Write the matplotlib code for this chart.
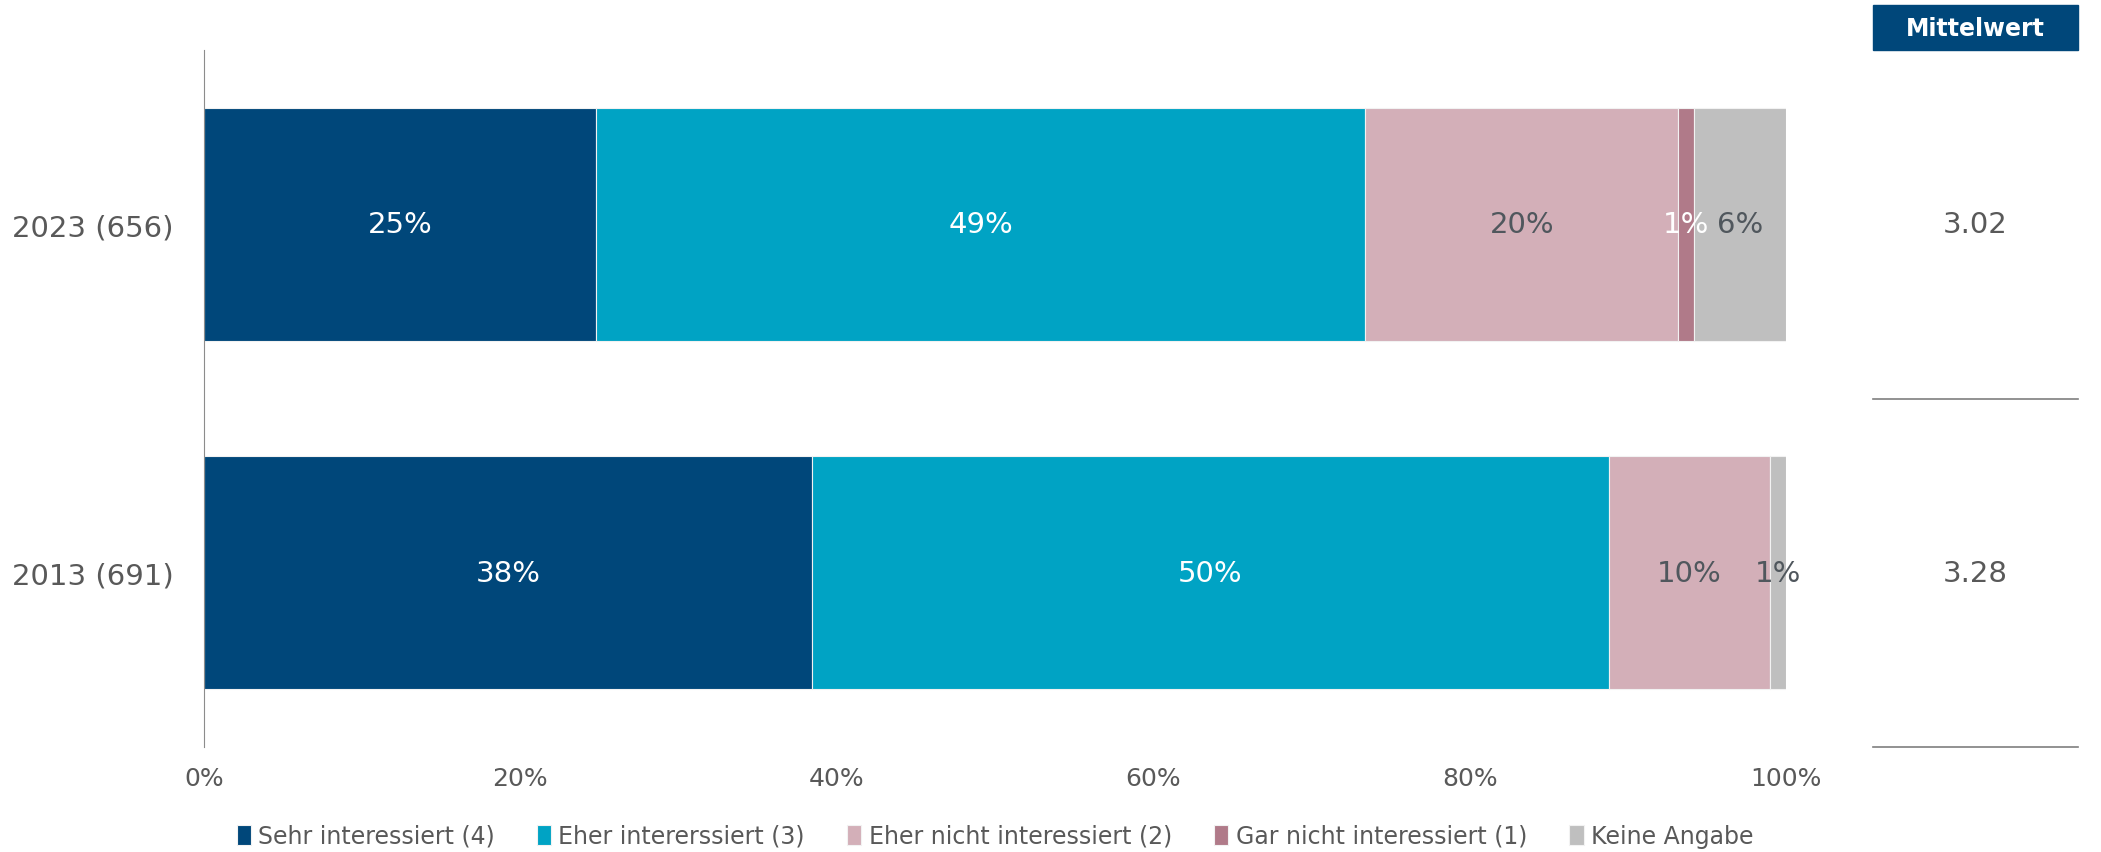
import matplotlib.pyplot as plt
from matplotlib.patches import Rectangle

# --Data
years = ['2013 (691)', '2023 (656)']
sehr = [38.4, 24.8]
eher = [50.4, 48.6]
eher_nicht = [10.2, 19.8]
gar_nicht = [0.0, 1.0]
keine = [1.0, 5.8]
mittelwert = [3.28, 3.02]

series = [sehr, eher, eher_nicht, gar_nicht, keine]
names = ['Sehr interessiert (4)', 'Eher intererssiert (3)', 'Eher nicht interessiert (2)',
         'Gar nicht interessiert (1)', 'Keine Angabe']
colors = ['#00477A', '#00A3C4', '#D3AFB8', '#B07A89', '#BFBFBF']
txtcol = ['white', 'white', '#50575D', 'white', '#50575D']
gray = '#595959'

plt.rcParams['font.family'] = ['DejaVu Sans']

fig = plt.figure(figsize=(21.01, 8.53), dpi=100)
ax = fig.add_axes([0.0971, 0.1231, 0.7530, 0.8171])

ypos = [0, 1]
left = [0.0, 0.0]
for vals, name, c, tc in zip(series, names, colors, txtcol):
    ax.barh(ypos, vals, left=left, height=0.67, color=c, label=name,
            edgecolor='#F2F2F2', linewidth=0.8)
    for y, v, l in zip(ypos, vals, left):
        if v > 0:
            ax.text(l + v / 2, y, f'{round(v):.0f}%', ha='center', va='center',
                    fontsize=21, color=tc)
    left = [a + b for a, b in zip(left, vals)]

ax.set_xlim(0, 100)
ax.set_ylim(-0.5, 1.5)
ax.set_yticks(ypos)
ax.set_yticklabels(years, fontsize=21, color=gray)
ax.set_xticks(range(0, 101, 20))
ax.set_xticklabels([f'{t}%' for t in range(0, 101, 20)], fontsize=18, color=gray)
ax.tick_params(length=0, pad=14)
ax.tick_params(axis='y', pad=22)
for s in ['top', 'right', 'bottom']:
    ax.spines[s].set_visible(False)
ax.spines['left'].set_color('#8C8C8C')

# Mittelwert panel
ax2 = fig.add_axes([1873 / 2101, 0.1231, 205 / 2101, 0.8171])
ax2.set_xlim(0, 1)
ax2.set_ylim(-0.5, 1.5)
ax2.axis('off')
for y, m in zip(ypos, mittelwert):
    ax2.text(0.5, y, f'{m:.2f}', ha='center', va='center', fontsize=21, color=gray)
for y in [0.5, -0.5]:
    ax2.plot([0, 1], [y, y], color='#7F7F7F', lw=1.2, clip_on=False)
ax2.add_patch(Rectangle((0, 1.5), 1, 0.128, color='#00477A', clip_on=False))
ax2.text(0.5, 1.564, 'Mittelwert', ha='center', va='center', fontsize=17,
         color='white', fontweight='bold', clip_on=False)

fig.legend(loc='center', bbox_to_anchor=(0.4735, 1 - 837 / 853), ncol=5, frameon=False,
           fontsize=17, labelcolor=gray, handlelength=0.6, handleheight=0.9,
           handletextpad=0.3, columnspacing=1.8)

fig.savefig('out.png', dpi=100)
